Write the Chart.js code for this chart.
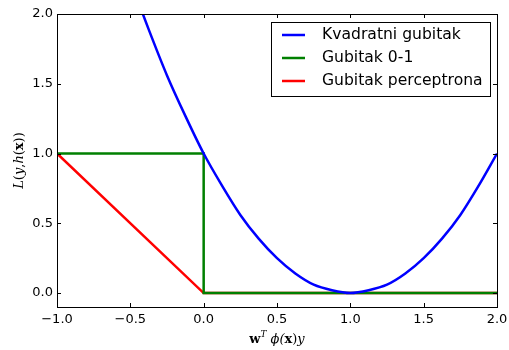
<!DOCTYPE html>
<html>
<head>
<meta charset="utf-8">
<script src="https://cdn.jsdelivr.net/npm/chart.js@4"></script>
<style>
  html, body { margin: 0; padding: 0; background: #fff; }
  #wrap { width: 509px; height: 350px; position: relative; }
</style>
</head>
<body>
<div id="wrap"><canvas id="c"></canvas></div>
<script>
// series
const quadX = [-0.45, -0.375, -0.25, -0.125, 0, 0.125, 0.25, 0.375, 0.5, 0.625, 0.75, 0.875, 1.0, 1.125, 1.25, 1.375, 1.5, 1.625, 1.75, 1.875, 2.0];
const quadY = [2.10, 1.89, 1.56, 1.27, 1.0, 0.77, 0.56, 0.39, 0.25, 0.14, 0.06, 0.02, 0.0, 0.02, 0.06, 0.14, 0.25, 0.39, 0.56, 0.77, 1.0];
const zeroOneX = [-1, 0, 0, 2];
const zeroOneY = [1, 1, 0, 0];
const percX = [-1, 0, 2];
const percY = [1, 0, 0];

const xTicks = [-1.0, -0.5, 0.0, 0.5, 1.0, 1.5, 2.0];
const yTicks = [0.0, 0.5, 1.0, 1.5, 2.0];
const labels = ['Kvadratni gubitak', 'Gubitak 0-1', 'Gubitak perceptrona'];

const pts = (xs, ys) => xs.map((x, i) => ({ x, y: ys[i] }));
const fmt = v => v.toFixed(1).replace('-', '\u2212');

// frame, inward ticks on all sides, axis titles
const framePlugin = {
  id: 'frame',
  afterDraw(chart) {
    const { ctx, chartArea: a, scales } = chart;
    ctx.save();
    ctx.strokeStyle = '#000';
    ctx.lineWidth = 1;
    ctx.beginPath();
    xTicks.forEach(v => {
      const px = Math.round(scales.x.getPixelForValue(v)) + 0.5;
      ctx.moveTo(px, a.bottom); ctx.lineTo(px, a.bottom - 4);
      ctx.moveTo(px, a.top); ctx.lineTo(px, a.top + 4);
    });
    yTicks.forEach(v => {
      const py = Math.round(scales.y.getPixelForValue(v)) + 0.5;
      ctx.moveTo(a.left, py); ctx.lineTo(a.left + 4, py);
      ctx.moveTo(a.right, py); ctx.lineTo(a.right - 4, py);
    });
    ctx.stroke();
    ctx.strokeRect(Math.round(a.left) + 0.5, Math.round(a.top) + 0.5, Math.round(a.width), Math.round(a.height));

    // x title: w^T phi(x) y
    ctx.fillStyle = '#000';
    ctx.textBaseline = 'alphabetic';
    const parts = [
      { t: 'w', f: 'bold 13px "DejaVu Serif"', dy: 0 },
      { t: 'T', f: 'italic 9px "DejaVu Serif"', dy: -6 },
      { t: ' \u03d5(', f: 'italic 13px "DejaVu Serif"', dy: 0 },
      { t: 'x', f: 'bold 13px "DejaVu Serif"', dy: 0 },
      { t: ')', f: '13px "DejaVu Serif"', dy: 0 },
      { t: 'y', f: 'italic 13px "DejaVu Serif"', dy: 0 }
    ];
    let w = 0;
    parts.forEach(p => { ctx.font = p.f; w += ctx.measureText(p.t).width; });
    let x = (a.left + a.right) / 2 - w / 2;
    parts.forEach(p => { ctx.font = p.f; ctx.fillText(p.t, x, 343 + p.dy); x += ctx.measureText(p.t).width; });

    // y title: L(y,h(x))
    const yparts = [
      { t: 'L', f: 'italic 13px "DejaVu Serif"' },
      { t: '(', f: '13px "DejaVu Serif"' },
      { t: 'y', f: 'italic 13px "DejaVu Serif"' },
      { t: ',', f: '13px "DejaVu Serif"' },
      { t: 'h', f: 'italic 13px "DejaVu Serif"' },
      { t: '(', f: '13px "DejaVu Serif"' },
      { t: 'x', f: 'bold 13px "DejaVu Serif"' },
      { t: '))', f: '13px "DejaVu Serif"' }
    ];
    w = 0;
    yparts.forEach(p => { ctx.font = p.f; w += ctx.measureText(p.t).width; });
    ctx.translate(23, (a.top + a.bottom) / 2);
    ctx.rotate(-Math.PI / 2);
    x = -w / 2;
    yparts.forEach(p => { ctx.font = p.f; ctx.fillText(p.t, x, 0); x += ctx.measureText(p.t).width; });
    ctx.restore();
  }
};

new Chart(document.getElementById('c'), {
  type: 'line',
  data: {
    datasets: [
      { label: labels[0], data: pts(quadX, quadY), borderColor: '#0000ff', borderWidth: 2.5, pointRadius: 0, cubicInterpolationMode: 'monotone', fill: false },
      { label: labels[1], data: pts(zeroOneX, zeroOneY), borderColor: '#008000', borderWidth: 2.5, pointRadius: 0, tension: 0, fill: false },
      { label: labels[2], data: pts(percX, percY), borderColor: '#ff0000', borderWidth: 2.5, pointRadius: 0, tension: 0, fill: false }
    ]
  },
  options: {
    responsive: true,
    maintainAspectRatio: false,
    animation: false,
    events: [],
    layout: { padding: { top: 14, right: 12, left: 0, bottom: 0 } },
    plugins: {
      legend: { display: false },
      tooltip: { enabled: false }
    },
    scales: {
      x: {
        type: 'linear',
        min: -1, max: 2,
        afterFit: s => { s.height = 43; s.paddingLeft = 0; s.paddingRight = 0; },
        afterBuildTicks: s => { s.ticks = xTicks.map(v => ({ value: v })); },
        ticks: { color: '#000', font: { family: 'DejaVu Sans', size: 13 }, padding: 5, maxRotation: 0, callback: v => fmt(v) },
        grid: { display: false, drawTicks: false },
        border: { display: false }
      },
      y: {
        type: 'linear',
        min: -0.1, max: 2,
        afterFit: s => { s.width = 57; s.paddingTop = 0; s.paddingBottom = 0; },
        afterBuildTicks: s => { s.ticks = yTicks.map(v => ({ value: v })); },
        ticks: { color: '#000', font: { family: 'DejaVu Sans', size: 13 }, padding: 4, callback: v => fmt(v) },
        grid: { display: false, drawTicks: false },
        border: { display: false }
      }
    }
  },
  plugins: [framePlugin, {
    id: 'boxLegend',
    afterDraw(chart) {
      const { ctx } = chart;
      const colors = chart.data.datasets.map(d => d.borderColor);
      ctx.save();
      ctx.fillStyle = '#fff';
      ctx.fillRect(271.5, 22.5, 219, 74);
      ctx.strokeStyle = '#000';
      ctx.lineWidth = 1;
      ctx.strokeRect(271.5, 22.5, 219, 74);
      ctx.font = '15.6px "DejaVu Sans"';
      ctx.textBaseline = 'middle';
      labels.forEach((t, i) => {
        const y = 35 + i * 23;
        ctx.strokeStyle = colors[i];
        ctx.lineWidth = 2.5;
        ctx.beginPath(); ctx.moveTo(282, y); ctx.lineTo(305, y); ctx.stroke();
        ctx.fillStyle = '#000';
        ctx.fillText(t, 322, y);
      });
      ctx.restore();
    }
  }]
});
</script>
</body>
</html>
